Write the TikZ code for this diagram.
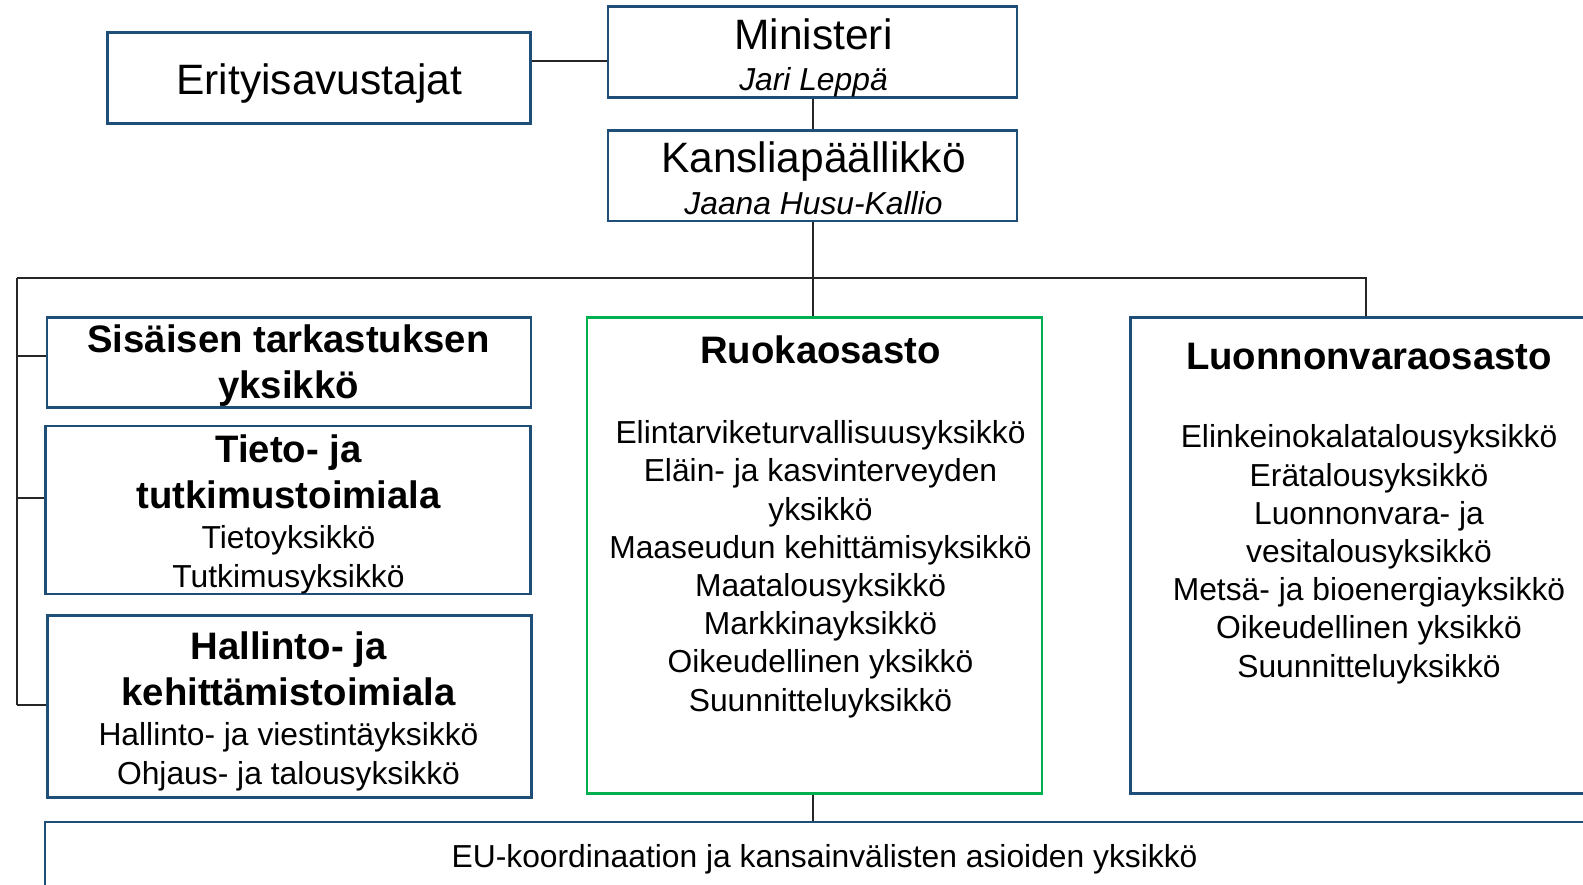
\documentclass[tikz,border=0pt]{standalone}
\usepackage{fontspec}
\setmainfont{Liberation Sans}
\usetikzlibrary{positioning}
\definecolor{orgblue}{RGB}{31,78,121}
\definecolor{orggreen}{RGB}{0,176,80}
\begin{document}
\begin{tikzpicture}[x=1pt,y=-1pt,
  box/.style={draw=orgblue,line width=2.6pt,inner sep=0pt},
  greenbox/.style={draw=orggreen,line width=2.6pt,inner sep=0pt},
  link/.style={draw=black!85,line width=2pt},
  big/.style={font=\fontsize{42.5}{50}\selectfont,anchor=base},
  head/.style={font=\fontsize{38.3}{45.8}\selectfont\bfseries,align=center,anchor=base},
  unit/.style={font=\fontsize{31.8}{38.2}\selectfont,align=center,anchor=base}]
\useasboundingbox (0,0) rectangle (1583,885);
\clip (0,0) rectangle (1583,885);
\fill[white] (0,0) rectangle (1583,885);

\node [box,minimum width=423,minimum height=91] (erit) at (318.8,77.8) {};
\node [box,minimum width=409,minimum height=90.6] (minister) at (812.5,52) {};
\node [box,minimum width=409,minimum height=90.6] (kanslia) at (812.5,175.6) {};
\node [box,minimum width=484,minimum height=90] (sisa) at (288.8,362.3) {};
\node [box,minimum width=485,minimum height=168] (tieto) at (288.2,510) {};
\node [box,minimum width=484,minimum height=182] (hallinto) at (289.5,706.3) {};
\node [greenbox,minimum width=455,minimum height=476] (ruoka) at (814.5,555.3) {};
\node [box,overlay,minimum width=477,minimum height=476] (luonto) at (1369,555.3) {};
\node [box,overlay,minimum width=1560,minimum height=92] (eu) at (825,868) {};

\node [big] (eritlbl) at (319.3,94.3) {Erityisavustajat};
\node [big] (ministerlbl) at (813.5,49.5) {Ministeri};
\node [unit] (ministername) at (813.5,91) {\itshape Jari Leppä};
\node [big] (kanslialbl) at (813.5,172.5) {Kansliapäällikkö};
\node [unit] (kanslianame) at (813.5,214.5) {\itshape Jaana Husu-Kallio};
\node [head] (sisalbl) at (288.5,398.5) {Sisäisen tarkastuksen\\yksikkö};
\node [head] (tietolbl) at (288.5,508) {Tieto- ja\\tutkimustoimiala};
\node [unit] (tietounits) at (288.5,587) {Tietoyksikkö\\Tutkimusyksikkö};
\node [head] (hallintolbl) at (288.5,705) {Hallinto- ja\\kehittämistoimiala};
\node [unit] (hallintounits) at (288.5,784) {Hallinto- ja viestintäyksikkö\\Ohjaus- ja talousyksikkö};
\node [head] (ruokalbl) at (820.5,364) {Ruokaosasto};
\node [unit] (ruokaunits) at (820.5,711) {Elintarviketurvallisuusyksikkö\\Eläin- ja kasvinterveyden\\yksikkö\\Maaseudun kehittämisyksikkö\\Maatalousyksikkö\\Markkinayksikkö\\Oikeudellinen yksikkö\\Suunnitteluyksikkö};
\node [head] (luontolbl) at (1369,370) {Luonnonvaraosasto};
\node [unit] (luontounits) at (1369,677) {Elinkeinokalatalousyksikkö\\Erätalousyksikkö\\Luonnonvara- ja\\vesitalousyksikkö\\Metsä- ja bioenergiayksikkö\\Oikeudellinen yksikkö\\Suunnitteluyksikkö};
\node [unit] (eulbl) at (824.6,867) {EU-koordinaation ja kansainvälisten asioiden yksikkö};

\coordinate (busL) at (16.5,278);
\coordinate (busR) at (1366,278);
\draw [link] ([yshift=-9.5pt]minister.west) -- ([yshift=-9.5pt]minister.west -| erit.east);
\draw [link] (813,0 |- minister.south) -- (813,0 |- kanslia.north);
\draw [link] (813,0 |- kanslia.south) -- (813,0 |- ruoka.north);
\draw [link] (busL) -- (busR) -- (busR |- luonto.north);
\draw [link] (busL) -- (16.5,705.3);
\draw [link] (16.5,355.7) -- (sisa.west |- 0,355.7);
\draw [link] (16.5,498.2) -- (tieto.west |- 0,498.2);
\draw [link] (16.5,705.3) -- (hallinto.west |- 0,705.3);
\draw [link] (813,0 |- ruoka.south) -- (813,0 |- eu.north);
\end{tikzpicture}
\end{document}
